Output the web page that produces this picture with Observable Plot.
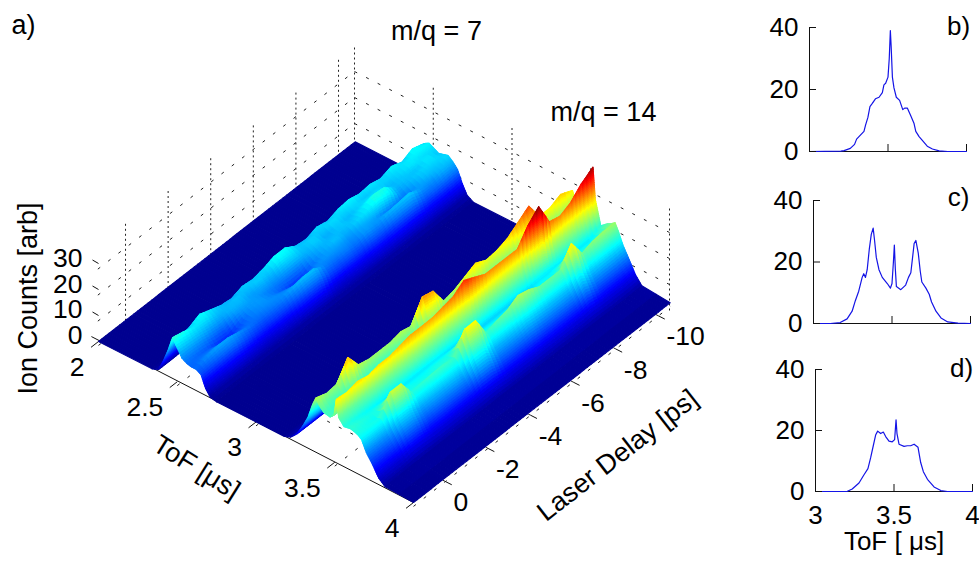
<!DOCTYPE html>
<html>
<head>
<meta charset="utf-8">
<script src="https://cdn.jsdelivr.net/npm/d3@7"></script>
<script src="https://cdn.jsdelivr.net/npm/@observablehq/plot@0.6"></script>
<style>
html,body{margin:0;padding:0;background:#fff;overflow:hidden}
#chart{position:relative;width:979px;height:564px;overflow:hidden}
#chart svg{position:absolute;overflow:visible}
</style>
</head>
<body>
<div id="chart"></div>
<script>
// ---------- data ----------
const delays = [1.5,1,0.5,0,-0.5,-1,-1.5,-2,-2.5,-3,-3.5,-4,-4.5,-5,-5.5,-6,-6.5,-7,-7.5,-8,-8.5,-9,-9.5,-10,-10.55];
const tof7 = [2.34,2.38,2.41,2.44,2.47,2.50,2.53,2.56,2.59,2.62,2.65,2.68,2.71,2.75];
const tof14 = [3.18,3.22,3.26,3.30,3.33,3.36,3.38,3.40,3.43,3.47,3.495,3.51,3.525,3.56,3.60,3.63,3.65,3.67,3.70,3.74,3.78,3.82];
const counts7 = [
[0,1,5,10,16,13,10,9,8.5,8.5,7.5,3,.5,0],
[0,1,6,12,15,12.5,10,8.5,9,10,8,3.5,1,0],
[0,1,7,12.5,13.5,12,9.5,8,9,11,8.5,4,1,0],
[0,1.5,8.5,14.5,13.5,11,8.5,6.5,8,11,9,4.5,1,0],
[0,1.5,8,13,12,10.5,8,6,7.5,10,8,4,1,0],
[0,1.5,7.5,11.5,11.5,11.5,10,8,8.5,9,7,3.5,1,0],
[0,1.5,7.5,11,12,11.5,10.5,10,9.5,8.5,6.5,3,1,0],
[0,1.5,8,12.5,11.5,10.5,10.5,10.5,10,9,7,3.5,1,0],
[0,1.5,7.5,12,12.5,11,9.5,9.5,10,9.5,7.5,3.5,1,0],
[0,1.5,8,13,12,10.5,9,8,9.5,11,8.5,4.5,1,0],
[0,1.5,9,14.5,14,11.5,9,6.5,8.5,12,9.5,5,1.2,0],
[0,1.5,9,14.5,13.5,12,9,7,9,12,9.5,5,1.2,0],
[0,1.5,8,12,12,11.5,10.5,9.5,10,9.5,7.5,3.5,1,0],
[0,1.5,7.5,11.5,12.5,12.5,11.5,11,10.5,9,7,3,1,0],
[0,1.5,8,13,12,11,11.5,12,10.5,9.5,7.5,3.5,1,0],
[0,1.5,8,12,13,12.5,12,11,10,9,7,3.5,1,0],
[0,1.5,8,13.5,12.5,11.5,12,12.5,11,10.5,8,4,1,0],
[0,1.5,8.5,14,13,12.5,13.5,13.5,11,10,8,4,1,0],
[0,1.5,8.5,13,12,13,15.5,15,9.5,11.5,9,4.5,1,0],
[0,1.5,8.5,13.5,12.5,13,15,14,8.5,12,9.5,4.5,1,0],
[0,1.5,8.5,12.5,12.5,11.5,11.5,10,8.5,12.5,9.5,4.5,1.2,0],
[0,1.5,9,14,13,12.5,12,11.5,10.5,10.5,8,4,1,0],
[0,1.5,8.5,12.5,13.5,13.5,12,12.5,12,10,8.5,4,1,0],
[0,1.5,9,14.5,14,13,13.5,13,12,11.5,9,4.5,1,0],
[0,1.5,9,13,14,13,12,12.5,13,11.5,9.5,5,1.5,0]
];
const counts14 = [
[0,1,3.5,8,12,18,21,19,17,16.5,18,24.5,18,15.5,16,15.5,15,14,10,6.5,2.5,.5],
[0,1,3.5,8,11.5,17,19.5,17.5,16,16,18,24,18,15,15.5,15,15,14,10,6.5,3,.6],
[0,1,3.5,8,11.5,17,20,17.5,15.5,15.5,18,25,18,14.5,15,14.5,15,14,10.5,7,3,.7],
[0,1,3.5,9.5,15,23,27,22,16,15,19,24,19,14,16,19,22,18.5,13,9,4,.8],
[0,1,3.5,8.5,12,18,21,18,15,14.5,19,25,19,13.5,16,19,22,18.5,13,9,4,.8],
[0,1,3.5,8,11.5,17,20,17,14.5,14,19,25,19,13.5,15,15,15.5,14.5,11,7.5,3.5,.8],
[0,1,3.5,8,11.5,17,20,17,14.5,14,19.5,26,19.5,13.5,14.5,15,16,14.5,11.5,8,3.5,.8],
[0,1,3.5,8,11.5,17,20,17.5,15,14.5,20,27,20,13.5,14.5,15,16.5,15,11.5,8,3.5,.8],
[0,1,3.5,8,12,18,21,18,15,14.5,20,27,20,13.5,15,15.5,16.5,15,12,8,3.5,.8],
[0,1,3.5,8,11.5,17,20,17.5,15,14.5,20,27,20,13.5,15,15.5,16,15,11.5,8,3.5,.8],
[0,1,3.5,9.5,15.5,24,28,23,17,14,20,28,20,13,16,20.5,24,20,15,10,4,.8],
[0,1,3.5,9.5,15,23,27,22.5,16,14,20.5,29,20.5,13,16,20.5,24,20,15,10,4,.8],
[0,1,3.5,8,11.5,17,20,17.5,14.5,13.5,21.5,32,21.5,12.5,14,15,16,15,11.5,8,3.5,.8],
[0,1,3.5,8.5,12,18,21,18,14.5,13.5,20.5,30,20.5,12.5,14,15.5,17.5,15.5,11.5,8,3.5,.8],
[0,1,3.5,8.5,13,19.5,23,19.5,15,13.5,20,28,20,12.5,14,16,18.5,16,12,8,3.5,.8],
[0,1,3.5,9,14,21,25,21,15.5,13.5,20,28,20,12.5,14.5,18,21,17.5,13,8.5,3.5,.8],
[0,1,3.5,8.5,13,19.5,23,19.5,15,13.5,20,28,20,12.5,14.5,17,20,17,12.5,8,3.5,.8],
[0,1,3.5,9,13,20,23.5,20,15,13.5,20,28,20,12.5,14,15.5,18,16,12,8,3.5,.8],
[0,1,3.5,9,14,21,25,21,16,14.5,23,34,23,13.5,14.5,15.5,18,16,12,8,3.5,.8],
[0,1,3.5,9.5,15.5,24,28,24,17.5,14.5,25,38,25,13.5,14.5,15.5,18,16,12,8,3.5,.8],
[0,1,3.5,10,17,26.5,31,26,19,14.5,21,29,21,13.5,16.5,21.5,25,21,15,10,4,.8],
[0,1,3.5,9,13.5,20.5,24,20.5,15.5,14.5,20.5,28,20.5,13.5,14.5,15.5,18,16,12,8,3.5,.8],
[0,1,3.5,9,13.5,20.5,24,20.5,15.5,14.5,21,30,21,13.5,15,17,19.5,17,12.5,8,3.5,.8],
[0,1,3.5,9,14.5,22,26,22,16.5,14.5,23,34,23,13.5,15,17,20,17,12.5,8,3.5,.8],
[0,1,3.5,9,13.5,20.5,24,20.5,15.5,14.5,25,37,25,16,18,19,20,17.5,13,8.5,4,1]
];
const sliceBx = [3,3.2,3.22,3.26,3.287,3.30,3.347,3.357,3.372,3.385,3.40,3.42,3.443,3.464,3.474,3.485,3.50,3.508,3.515,3.52,3.528,3.538,3.553,3.574,3.594,3.606,3.623,3.645,3.666,3.677,3.698,3.72,3.75,3.783,3.826,3.88,4];
const sliceBy = [0,.1,.3,1,2.3,4,6.5,8.5,11,14.5,15.5,17,17.5,19,21.5,22,24,30,39,34,24,20.5,17.5,16.5,13.5,14,14,11.5,9,6.5,4.8,3.5,1.7,.8,.2,0,0];
const sliceCx = [3,3.107,3.17,3.214,3.246,3.267,3.288,3.31,3.32,3.331,3.342,3.355,3.368,3.38,3.389,3.4,3.417,3.438,3.47,3.49,3.50,3.509,3.515,3.521,3.528,3.556,3.587,3.605,3.62,3.63,3.641,3.652,3.667,3.68,3.69,3.716,3.737,3.752,3.78,3.812,3.855,3.92,4];
const sliceCy = [0,0,.3,1.5,4,7.5,10.5,15,16.2,15,17.5,24,29,31,27,21.5,17.5,15,13,11.5,13,20,25.5,18,12,11,12.5,15,16.5,21,26,27,23,17,13.5,11.5,9.5,7,4,1.8,.5,.1,0];
const sliceDx = [3,3.2,3.234,3.277,3.309,3.334,3.351,3.368,3.383,3.396,3.415,3.432,3.447,3.468,3.489,3.504,3.513,3.519,3.532,3.564,3.585,3.606,3.628,3.653,3.67,3.687,3.713,3.755,3.798,3.84,4];
const sliceDy = [0,0,.8,2.8,5.5,7.5,11,15,18.5,19.8,19,19.5,18,16.5,16.3,17,23.5,19,15.5,14.8,15,15,15.5,14.5,9.5,6.5,4,1.5,.3,0,0];
const tofTicks = [2,2.5,3,3.5,4];
const delayTicks = [0,-2,-4,-6,-8,-10];
const countTicks = [0,10,20,30];

// ---------- orthographic view of the three-dimensional axes ----------
const SANS = "Liberation Sans, Arial, sans-serif";
const view = (t,d,z=0) => ({x:98+157.5*(t-2)+21.3*(1.5-d), y:341+80.5*(t-2)-16.57*(1.5-d)-2.6*z});
const leftWall = (d,z) => {const x=354-21.3*(d+10.75); return {x, y:149+0.77*(354-x)-2.6*z};};
const rightWall = (t,z) => ({x:354+157.5*(t-2), y:149+80.5*(t-2)-2.6*z});
const seg = (a,b) => ({x1:a.x,y1:a.y,x2:b.x,y2:b.y});

// surface cells, painted from the far corner to the near one
const tofAll = [2,...tof7,...tof14,4];
const rows = delays.map((d,i)=>[0,...counts7[i],...counts14[i],0]);
const quads = [];
(function(){
  const rowSub = 3;
  const colSub = tofAll.slice(0,-1).map((_,c)=>{
    const m = d3.max(rows,r=>Math.abs(r[c+1]-r[c]));
    return Math.max(1,Math.min(16,Math.ceil(m/0.9)));
  });
  let id=0;
  const at=(r,c,u,v)=>{
    const a=rows[r][c],b=rows[r][c+1],e=rows[r+1][c],f=rows[r+1][c+1];
    return a*(1-u)*(1-v)+b*(1-u)*v+e*u*(1-v)+f*u*v;
  };
  for(let r=delays.length-2;r>=0;r--){
    for(let k=rowSub-1;k>=0;k--){
      const u0=k/rowSub,u1=(k+1)/rowSub;
      const d0=delays[r]+(delays[r+1]-delays[r])*u0,d1=delays[r]+(delays[r+1]-delays[r])*u1;
      for(let c=0;c<tofAll.length-1;c++){
        const n=colSub[c];
        for(let q=0;q<n;q++){
          const v0=q/n,v1=(q+1)/n;
          const t0=tofAll[c]+(tofAll[c+1]-tofAll[c])*v0,t1=tofAll[c]+(tofAll[c+1]-tofAll[c])*v1;
          const z00=at(r,c,u0,v0),z01=at(r,c,u0,v1),z10=at(r,c,u1,v0),z11=at(r,c,u1,v1);
          const val=(z00+z01+z10+z11)/4;
          id++;
          [[t0,d0,z00],[t1,d0,z01],[t1,d1,z11],[t0,d1,z10],[t0,d0,z00]].forEach(p=>{
            const w=view(p[0],p[1],p[2]);
            quads.push({id,x:w.x,y:w.y,val});
          });
        }
      }
    }
  }
})();

const zTop = 40, wallLevels=[10,20,30];
const wallVerticals = [
  ...delayTicks.map(d=>seg(leftWall(d,0),leftWall(d,zTop))),
  seg(leftWall(-10.75,0),leftWall(-10.75,zTop)),
  ...tofTicks.slice(1).map(t=>seg(rightWall(t,0),rightWall(t,zTop)))
];
const wallHorizontals = wallLevels.flatMap(z=>[
  seg(leftWall(1.3,z),leftWall(-10.75,z)),
  seg(rightWall(2,z),rightWall(4,z))
]);
const floorLines = [
  ...tofTicks.map(t=>seg(view(t,1.5,-1.5),view(t,-10.55,-1.5))),
  ...delayTicks.map(d=>seg(view(2,d,-1.5),view(4,d,-1.5)))
];
const axisLine = [seg(view(1.955,1.5,0.5),view(4,1.5,0))];
const ticks = [
  ...tofTicks.map(t=>seg(view(t,1.5,0),view(t,1.85,0))),
  ...delayTicks.map(d=>seg(view(4,d,-1.5),view(4.04,d,-1.5))),
  ...countTicks.slice(1).map(z=>({x1:92,y1:338-2.6*z-0.5,x2:98,y2:338-2.6*z+3}))
];
const tofLabels = tofTicks.map(t=>({...view(t,1.5),t:String(t)}));
const delayLabels = delayTicks.map(d=>({...view(4,d),t:String(d)}));
const countLabels = countTicks.map(z=>({x:82,y:335-2.55*z,t:String(z)}));

const label=(t,x,y,o={})=>Plot.text([{x,y,t}],{x:"x",y:"y",text:"t",fontSize:27,fill:"black",fontFamily:SANS,...o});
const tickText={fontSize:26.5,fontFamily:SANS,fill:"black"};

const main = Plot.plot({
  width:979,height:564,margin:0,
  style:{background:"white",fontFamily:SANS},
  x:{domain:[0,979],range:[0,979],axis:null},
  y:{domain:[0,564],range:[0,564],axis:null},
  color:{type:"linear",interpolate:"rgb",domain:[0,4.75,14.25,23.75,33.25,38],range:["#000090","#0000ff","#00ffff","#ffff00","#ff0000","#800000"]},
  marks:[
    Plot.link(wallVerticals,{x1:"x1",y1:"y1",x2:"x2",y2:"y2",stroke:"#222",strokeWidth:1,strokeDasharray:"2 3"}),
    Plot.link(wallHorizontals,{x1:"x1",y1:"y1",x2:"x2",y2:"y2",stroke:"#222",strokeWidth:1,strokeDasharray:"3 10"}),
    Plot.link(floorLines,{x1:"x1",y1:"y1",x2:"x2",y2:"y2",stroke:"#222",strokeWidth:1,strokeDasharray:"3 10"}),
    Plot.link(axisLine,{x1:"x1",y1:"y1",x2:"x2",y2:"y2",stroke:"#111",strokeWidth:1}),
    Plot.link(ticks,{x1:"x1",y1:"y1",x2:"x2",y2:"y2",stroke:"#111",strokeWidth:1}),
    Plot.line(quads,{x:"x",y:"y",z:"id",fill:"val",stroke:"val",strokeWidth:1.1,curve:"linear"}),
    Plot.text(tofLabels,{x:"x",y:"y",text:"t",dx:-14,dy:26,textAnchor:"end",...tickText}),
    Plot.text(delayLabels,{x:"x",y:"y",text:"t",dx:8,dy:25,textAnchor:"start",...tickText}),
    Plot.text(countLabels,{x:"x",y:"y",text:"t",textAnchor:"end",...tickText}),
    label("a)",23,25),
    label("m/q = 7",436,31),
    label("m/q = 14",603,112),
    label("Ion Counts [arb]",28,298,{rotate:-90}),
    label("ToF [μs]",196,467,{rotate:32}),
    label("Laser Delay [ps]",617,455,{rotate:-38}),
    label("b)",958,26,{fontSize:26}),
    label("c)",958,197,{fontSize:26}),
    label("d)",961,368,{fontSize:26})
  ]
});
main.style.left="0";main.style.top="0";

const host=document.getElementById("chart");
host.appendChild(main);

function slice(xs,ys,x0,y40,y0,showX){
  const left=50,right=8,top=5,bottom=showX?72:10;
  const data=xs.map((x,i)=>({x,y:ys[i]}));
  const marks=[
    Plot.ruleX([3],{stroke:"#111",strokeWidth:1}),
    Plot.ruleY([0],{stroke:"#111",strokeWidth:1}),
    Plot.line(data,{x:"x",y:"y",stroke:"#1414e6",strokeWidth:1.2}),
    Plot.axisY({ticks:[0,20,40],tickSize:-7,tickPadding:18,label:null,fontSize:26,stroke:"#111"}),
    Plot.axisX({ticks:[3.5,4],tickSize:-7,tickPadding:showX?21:0,label:null,tickFormat:showX?String:()=>"",fontSize:26,stroke:"#111"})
  ];
  if(showX){
    marks.push(Plot.axisX({ticks:[3],tickSize:0,tickPadding:14,label:null,tickFormat:String,fontSize:26}));
    marks.push(Plot.text(["ToF [ μs]"],{frameAnchor:"bottom",dy:58,fontSize:26,fontFamily:SANS,fill:"black"}));
  }
  const p=Plot.plot({
    width:left+157+right,height:top+(y0-y40)+bottom,
    marginLeft:left,marginRight:right,marginTop:top,marginBottom:bottom,
    style:{background:"transparent",fontFamily:SANS,fontSize:"26px",color:"black"},
    x:{domain:[3,4],axis:null},
    y:{domain:[0,40],axis:null},
    marks
  });
  p.style.left=(x0-left)+"px";p.style.top=(y40-top)+"px";
  host.appendChild(p);
}
slice(sliceBx,sliceBy,809,27,151,false);
slice(sliceCx,sliceCy,813,200,323,false);
slice(sliceDx,sliceDy,815,369,491,true);
</script>
</body>
</html>
